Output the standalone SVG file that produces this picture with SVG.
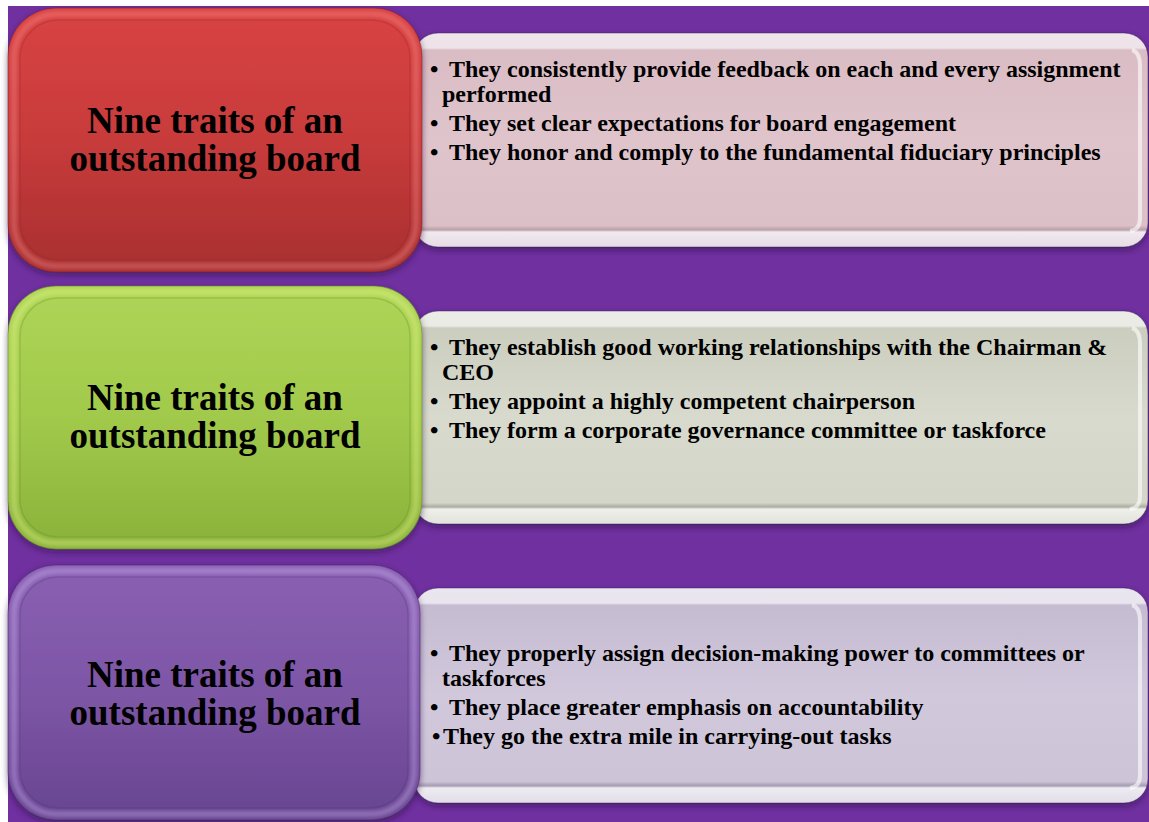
<svg xmlns="http://www.w3.org/2000/svg" width="1149" height="822" viewBox="0 0 1149 822">
<defs>
<style>
.title{font-family:"Liberation Serif","Times New Roman",serif;font-weight:bold;font-size:37px;text-anchor:middle;fill:#000}
.item{font-family:"Liberation Serif","Times New Roman",serif;font-weight:bold;font-size:24px;fill:#000}
.rim{fill:none;stroke-width:5;opacity:0.4}
.frame{stroke:#3a1a5a;stroke-opacity:0.45;stroke-width:1}
</style>
<filter id="shadow" x="-5%" y="-5%" width="110%" height="115%">
<feDropShadow dx="0" dy="3" stdDeviation="3" flood-color="#2a0a40" flood-opacity="0.55"/>
</filter>
<filter id="blur2"><feGaussianBlur stdDeviation="2"/></filter>
<linearGradient id="gRed" x1="0" y1="0" x2="0" y2="1">
<stop offset="0" stop-color="#D94343"/><stop offset="0.5" stop-color="#C83B3B"/><stop offset="1" stop-color="#A82F30"/>
</linearGradient>
<linearGradient id="gGreen" x1="0" y1="0" x2="0" y2="1">
<stop offset="0" stop-color="#AED556"/><stop offset="0.5" stop-color="#A1C94B"/><stop offset="1" stop-color="#8AB23A"/>
</linearGradient>
<linearGradient id="gPurple" x1="0" y1="0" x2="0" y2="1">
<stop offset="0" stop-color="#8A60B2"/><stop offset="0.5" stop-color="#7D56A6"/><stop offset="1" stop-color="#684590"/>
</linearGradient>
<linearGradient id="fPink" x1="0" y1="0" x2="0" y2="1">
<stop offset="0" stop-color="#EEE4EA"/><stop offset="0.07" stop-color="#EDE3E9"/><stop offset="0.08" stop-color="#D9BCC4"/><stop offset="0.5" stop-color="#E0C4CC"/><stop offset="0.9" stop-color="#DCC0C8"/><stop offset="0.92" stop-color="#B9A0A8"/><stop offset="0.93" stop-color="#F1EAF0"/><stop offset="1" stop-color="#E6DCE4"/>
</linearGradient>
<linearGradient id="fGreen" x1="0" y1="0" x2="0" y2="1">
<stop offset="0" stop-color="#ECECE6"/><stop offset="0.07" stop-color="#EBEBE5"/><stop offset="0.08" stop-color="#CBCEBF"/><stop offset="0.5" stop-color="#D7DACC"/><stop offset="0.9" stop-color="#D3D6C8"/><stop offset="0.92" stop-color="#ABAE9F"/><stop offset="0.93" stop-color="#EFEFEB"/><stop offset="1" stop-color="#E3E3DC"/>
</linearGradient>
<linearGradient id="fLav" x1="0" y1="0" x2="0" y2="1">
<stop offset="0" stop-color="#EAE6EF"/><stop offset="0.07" stop-color="#E9E5EE"/><stop offset="0.08" stop-color="#C6BCD2"/><stop offset="0.5" stop-color="#D1C8DC"/><stop offset="0.9" stop-color="#CDC4D8"/><stop offset="0.92" stop-color="#A69CB3"/><stop offset="0.93" stop-color="#EEEBF2"/><stop offset="1" stop-color="#E2DDE8"/>
</linearGradient>
</defs>

<rect x="0" y="0" width="1149" height="822" fill="#ffffff"/>
<rect x="8" y="6" width="1141" height="816" fill="#7030A0"/>

<g id="detail1">
<rect x="414" y="33" width="734" height="214" rx="24" fill="url(#fPink)" filter="url(#shadow)" class="frame"/>
<path d="M1132 50 Q1140 52 1140 66 L1140 218 Q1140 230 1130 231" fill="none" stroke="#ffffff" stroke-opacity="0.6" stroke-width="4"/>
<text class="item" x="430" y="77">•</text><text class="item" x="449" y="77">They consistently provide feedback on each and every assignment</text>
<text class="item" x="442" y="102">performed</text>
<text class="item" x="430" y="131">•</text><text class="item" x="449" y="131">They set clear expectations for board engagement</text>
<text class="item" x="430" y="160">•</text><text class="item" x="449" y="160">They honor and comply to the fundamental fiduciary principles</text>
</g>
<g id="detail2">
<rect x="414" y="311" width="734" height="213" rx="24" fill="url(#fGreen)" filter="url(#shadow)" class="frame"/>
<path d="M1132 328 Q1140 330 1140 344 L1140 496 Q1140 508 1130 509" fill="none" stroke="#ffffff" stroke-opacity="0.6" stroke-width="4"/>
<text class="item" x="430" y="355">•</text><text class="item" x="449" y="355">They establish good working relationships with the Chairman &amp;</text>
<text class="item" x="442" y="380">CEO</text>
<text class="item" x="430" y="409">•</text><text class="item" x="449" y="409">They appoint a highly competent chairperson</text>
<text class="item" x="430" y="438">•</text><text class="item" x="449" y="438">They form a corporate governance committee or taskforce</text>
</g>
<g id="detail3">
<rect x="414" y="588" width="734" height="215" rx="24" fill="url(#fLav)" filter="url(#shadow)" class="frame"/>
<path d="M1132 605 Q1140 607 1140 621 L1140 775 Q1140 787 1130 788" fill="none" stroke="#ffffff" stroke-opacity="0.6" stroke-width="4"/>
<text class="item" x="430" y="661">•</text><text class="item" x="449" y="661">They properly assign decision-making power to committees or</text>
<text class="item" x="442" y="686">taskforces</text>
<text class="item" x="430" y="715">•</text><text class="item" x="449" y="715">They place greater emphasis on accountability</text>
<text class="item" x="432" y="744">•</text><text class="item" x="443" y="744">They go the extra mile in carrying-out tasks</text>
</g>

<g id="title1">
<rect x="8" y="8" width="414" height="264" rx="48" fill="url(#gRed)" filter="url(#shadow)" stroke="#7a1e1e" stroke-opacity="0.5"/>
<rect x="14" y="14" width="402" height="252" rx="43" class="rim" stroke="#FF9A9A" filter="url(#blur2)"/>
<rect x="20" y="20" width="390" height="240" rx="38" fill="none" stroke="#8A2424" stroke-opacity="0.25" stroke-width="1.5"/>
<text class="title" x="215" y="133">Nine traits of an</text>
<text class="title" x="215" y="171">outstanding board</text>
</g>
<g id="title2">
<rect x="8" y="286" width="414" height="263" rx="48" fill="url(#gGreen)" filter="url(#shadow)" stroke="#5a7a1e" stroke-opacity="0.5"/>
<rect x="14" y="292" width="402" height="251" rx="43" class="rim" stroke="#F2FF9A" filter="url(#blur2)"/>
<rect x="20" y="298" width="390" height="239" rx="38" fill="none" stroke="#5F7F20" stroke-opacity="0.25" stroke-width="1.5"/>
<text class="title" x="215" y="410">Nine traits of an</text>
<text class="title" x="215" y="448">outstanding board</text>
</g>
<g id="title3">
<rect x="8" y="565" width="412" height="255" rx="48" fill="url(#gPurple)" filter="url(#shadow)" stroke="#3e245e" stroke-opacity="0.5"/>
<rect x="14" y="571" width="400" height="243" rx="43" class="rim" stroke="#D9C2FF" filter="url(#blur2)"/>
<rect x="20" y="577" width="388" height="231" rx="38" fill="none" stroke="#4A2F70" stroke-opacity="0.25" stroke-width="1.5"/>
<text class="title" x="215" y="687">Nine traits of an</text>
<text class="title" x="215" y="725">outstanding board</text>
</g>
</svg>
